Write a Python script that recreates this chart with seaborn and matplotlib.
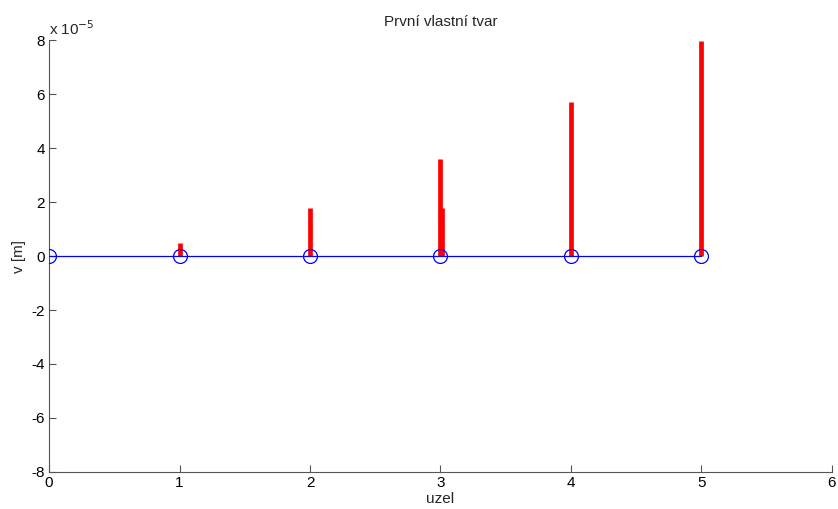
import matplotlib
matplotlib.use("Agg")
import matplotlib.pyplot as plt
import seaborn as sns
import pandas as pd
from matplotlib.ticker import FuncFormatter

sns.set_theme(style="white")
plt.rcParams['font.family'] = ['Liberation Sans', 'DejaVu Sans']

nodes = [0, 1, 2, 3, 4, 5]
baseline = [0, 0, 0, 0, 0, 0]
bar_x = [1, 2, 3, 3.012, 4, 5]
bar_v = [0.48e-5, 1.78e-5, 3.6e-5, 1.78e-5, 5.72e-5, 7.95e-5]
xticks = [0, 1, 2, 3, 4, 5, 6]
yticks = [-8e-5, -6e-5, -4e-5, -2e-5, 0, 2e-5, 4e-5, 6e-5, 8e-5]

fig = plt.figure(figsize=(8.38, 5.09), dpi=100)
ax = fig.add_axes([0.0585, 0.0727, 0.9343, 0.8487])

df = pd.DataFrame({"uzel": nodes, "v": baseline})
ax.vlines(bar_x, 0, bar_v, colors="#ff0000", linewidth=3.4, zorder=3)
sns.lineplot(data=df, x="uzel", y="v", ax=ax, color="#0000ff", linewidth=0.9,
             marker="o", markersize=10, markerfacecolor="none",
             markeredgecolor="#0000ff", markeredgewidth=0.9, zorder=4)

ax.set_xlim(0, 6)
ax.set_ylim(-8e-5, 8e-5)
ax.set_xticks(xticks)
ax.set_yticks(yticks)
ax.yaxis.set_major_formatter(FuncFormatter(lambda v, p: f"{v/1e-5:.0f}"))
ax.xaxis.set_major_formatter(FuncFormatter(lambda v, p: f"{v:.0f}"))

for s in ["top", "right"]:
    ax.spines[s].set_visible(False)
for s in ["left", "bottom"]:
    ax.spines[s].set_color("#555555")
    ax.spines[s].set_linewidth(0.8)
ax.tick_params(direction="in", length=5, width=0.8, color="#555555",
               labelsize=11, labelcolor="black", pad=3,
               bottom=True, left=True)

ax.set_title("První vlastní tvar", fontsize=11, pad=10)
ax.set_xlabel("uzel", fontsize=11, labelpad=1)
ax.set_ylabel("v [m]", fontsize=11, labelpad=4)
ax.text(0.0, 1.005, "x 10$^{-5}$", transform=ax.transAxes, fontsize=11,
        ha="left", va="bottom")
ax.grid(False)

fig.savefig("out.png", dpi=100)
